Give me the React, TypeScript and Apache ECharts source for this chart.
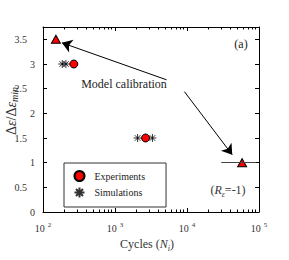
import React, { useEffect, useRef } from "react";
import * as echarts from "echarts";

// ---- data ----
const experimentsX = [151, 268, 2660, 58300];
const experimentsY = [3.5, 3, 1.5, 1];
const calibrationPoint = [true, false, false, true];
const simulationsX = [185, 208, 2060, 3310];
const simulationsY = [3, 3, 1.5, 1.5];
const errorBarLow = 29900;
const errorBarHigh = 91000;
const errorBarY = 1;
const yTickValues = [0, 0.5, 1, 1.5, 2, 2.5, 3, 3.5];
const xDecades = [100, 1000, 10000, 100000];
const xMinorMultipliers = [2, 3, 4, 5, 6, 7, 8, 9];
const arrowFromX = [5190, 9200];
const arrowFromY = [2.68, 2.44];
const arrowToX = [183, 42500];
const arrowToY = [3.43, 1.16];

const SERIF = "Liberation Serif";
const ASTERISK = "path://M5,0L5,10M0,5L10,5M1.5,1.5L8.5,8.5M1.5,8.5L8.5,1.5";

export default function App() {
  const ref = useRef<HTMLDivElement>(null);
  useEffect(() => {
    if (!ref.current) return;
    const chart = echarts.init(ref.current, null, { renderer: "svg" });
    const xMinorTicks: number[] = [];
    xDecades.slice(0, -1).forEach((d) => xMinorMultipliers.forEach((m) => xMinorTicks.push(d * m)));

    const xBase = {
      type: "log" as const,
      logBase: 10,
      min: xDecades[0],
      max: xDecades[xDecades.length - 1],
      gridIndex: 0,
      splitLine: { show: false },
    };
    const yBase = {
      type: "value" as const,
      min: 0,
      max: 3.75,
      splitLine: { show: false },
    };

    const option: any = {
      animation: false,
      textStyle: { fontFamily: SERIF },
      grid: { left: 43, top: 27, right: 30, bottom: 48, containLabel: false, outerBoundsMode: "none" },
      xAxis: [
        {
          ...xBase,
          position: "bottom",
          axisLine: { show: true, lineStyle: { color: "#000", width: 1 } },
          axisTick: { show: true, inside: true, length: 4, lineStyle: { color: "#000" } },
          axisLabel: {
            show: true,
            margin: 9,
            color: "#333",
            fontFamily: SERIF,
            formatter: (v: number) => `{b|10}{s|${Math.round(Math.log10(v))}}`,
            rich: {
              b: { fontSize: 10, fontFamily: SERIF, color: "#333", lineHeight: 14 },
              s: { fontSize: 7, fontFamily: SERIF, color: "#333", verticalAlign: "top", lineHeight: 9, padding: [0, 0, 0, 3] },
            },
          },
          name: "{n|Cycles (}{i|N}{s|i}{n|)}",
          nameLocation: "middle",
          nameGap: 24,
          nameTextStyle: {
            fontFamily: SERIF,
            padding: [0, 8, 0, 0],
            rich: {
              n: { fontSize: 12, fontFamily: SERIF, color: "#333", lineHeight: 16 },
              i: { fontSize: 12, fontFamily: SERIF, fontStyle: "italic", color: "#333", lineHeight: 16 },
              s: { fontSize: 8, fontFamily: SERIF, fontStyle: "italic", color: "#333", verticalAlign: "bottom", lineHeight: 8 },
            },
          },
        },
        {
          ...xBase,
          position: "bottom",
          axisLine: { show: false },
          axisLabel: { show: false },
          axisTick: { show: true, inside: true, length: 2.5, customValues: xMinorTicks, lineStyle: { color: "#000" } },
        },
        {
          ...xBase,
          position: "top",
          axisLine: { show: true, lineStyle: { color: "#000", width: 1 } },
          axisLabel: { show: false },
          axisTick: { show: true, inside: true, length: 4, lineStyle: { color: "#000" } },
        },
        {
          ...xBase,
          position: "top",
          axisLine: { show: false },
          axisLabel: { show: false },
          axisTick: { show: true, inside: true, length: 2.5, customValues: xMinorTicks, lineStyle: { color: "#000" } },
        },
      ],
      yAxis: [
        {
          ...yBase,
          position: "left",
          axisLine: { show: true, lineStyle: { color: "#000", width: 1 } },
          axisTick: { show: true, inside: true, length: 4, customValues: yTickValues, lineStyle: { color: "#000" } },
          axisLabel: {
            show: true,
            margin: 8,
            fontFamily: SERIF,
            customValues: yTickValues,
            formatter: (v: number) => (Number.isInteger(v) ? `{a|${v}}` : `{d|${v}}`),
            rich: {
              a: { fontSize: 10, fontFamily: SERIF, color: "#333" },
              d: { fontSize: 10, fontFamily: SERIF, color: "#333", padding: [0, 8, 0, 0] },
            },
          },
        },
        {
          ...yBase,
          position: "right",
          axisLine: { show: true, lineStyle: { color: "#000", width: 1 } },
          axisTick: { show: true, inside: true, length: 4, customValues: yTickValues, lineStyle: { color: "#000" } },
          axisLabel: { show: false },
        },
      ],
      legend: {
        show: true,
        orient: "vertical",
        left: 64,
        top: 163,
        padding: [7, 21, 7, 8],
        itemGap: 3,
        itemWidth: 20,
        itemHeight: 10,
        borderColor: "#333",
        borderWidth: 1,
        backgroundColor: "#fff",
        textStyle: { fontSize: 10, fontFamily: SERIF, color: "#222" },
        data: ["Experiments", "Simulations"],
      },
      series: [
        {
          name: "Simulations",
          type: "scatter",
          xAxisIndex: 0,
          yAxisIndex: 0,
          z: 2,
          symbol: ASTERISK,
          symbolSize: 8,
          itemStyle: { color: "none", borderColor: "#000", borderWidth: 1 },
          data: simulationsX.map((x, i) => [x, simulationsY[i]]),
          markLine: {
            silent: true,
            animation: false,
            label: { show: false },
            symbol: ["none", "arrow"],
            symbolSize: 10,
            lineStyle: { color: "#000", width: 1, type: "solid" },
            emphasis: { disabled: true },
            data: [
              ...arrowFromX.map((x, i) => [
                { coord: [x, arrowFromY[i]], symbol: "none" },
                { coord: [arrowToX[i], arrowToY[i]], symbol: "arrow", symbolSize: 10 },
              ]),
              [
                { coord: [errorBarLow, errorBarY], symbol: "none", lineStyle: { color: "#444", width: 1, type: "solid" } },
                { coord: [errorBarHigh, errorBarY], symbol: "none", lineStyle: { color: "#444", width: 1, type: "solid" } },
              ],
            ],
          },
        },
        {
          name: "Experiments",
          type: "scatter",
          xAxisIndex: 0,
          yAxisIndex: 0,
          z: 3,
          symbol: "circle",
          symbolSize: 8,
          itemStyle: { color: "#ff0000", borderColor: "#000", borderWidth: 1, opacity: 1 },
          data: experimentsX.map((x, i) =>
            calibrationPoint[i]
              ? { value: [x, experimentsY[i]], symbol: "triangle", symbolSize: [9, 8] }
              : { value: [x, experimentsY[i]] }
          ),
        },
      ],
      graphic: [
        {
          type: "text",
          x: 11,
          y: 111,
          rotation: Math.PI / 2,
          style: {
            text: "{n|Δ}{e|ε}{n|/Δ}{e|ε}{s|min}",
            fontFamily: SERIF,
            align: "center",
            verticalAlign: "middle",
            rich: {
              n: { fontSize: 14, fontFamily: SERIF, fill: "#333", lineHeight: 17 },
              e: { fontSize: 14, fontFamily: SERIF, fontStyle: "italic", fill: "#333", lineHeight: 17 },
              s: { fontSize: 10, fontFamily: SERIF, fontStyle: "italic", fill: "#333", verticalAlign: "bottom", lineHeight: 10 },
            },
          },
        },
        {
          type: "text",
          x: 241,
          y: 44,
          style: { text: "(a)", fontSize: 12, fontFamily: SERIF, fill: "#222", align: "center", verticalAlign: "middle" },
        },
        {
          type: "text",
          x: 124,
          y: 84,
          style: { text: "Model calibration", fontSize: 12, fontFamily: SERIF, fill: "#222", align: "center", verticalAlign: "middle" },
        },
        {
          type: "text",
          x: 228,
          y: 190,
          style: {
            text: "{n|(}{i|R}{s|ε}{n|=-1)}",
            fontFamily: SERIF,
            align: "center",
            verticalAlign: "middle",
            rich: {
              n: { fontSize: 12, fontFamily: SERIF, fill: "#333", lineHeight: 16 },
              i: { fontSize: 12, fontFamily: SERIF, fontStyle: "italic", fill: "#333", lineHeight: 16 },
              s: { fontSize: 8, fontFamily: SERIF, fontStyle: "italic", fill: "#333", verticalAlign: "bottom", lineHeight: 8 },
            },
          },
        },
      ],
    };
    chart.setOption(option);
    return () => chart.dispose();
  }, []);
  return (
    <div
      ref={ref}
      style={{ position: "fixed", left: 0, top: 0, width: 289, height: 260, background: "#fff" }}
    />
  );
}
